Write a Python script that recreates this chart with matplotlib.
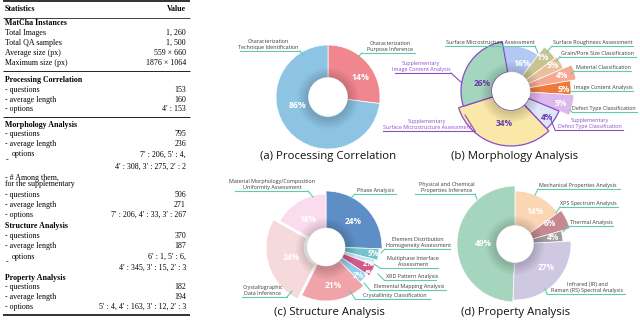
import matplotlib
matplotlib.use("Agg")
import matplotlib.pyplot as plt
from matplotlib.patches import Circle

# ------------------------------------------------------------------ data
tab_labels = ["Statistics", "MatCha Instances", "Total Images", "Total QA samples",
              "Average size (px)", "Maximum size (px)",
              "Processing Correlation", "- questions", "- average length", "- options",
              "Morphology Analysis", "- questions", "- average length", "options", "",
              "- # Among them,", "for the supplementary", "- questions", "- average length", "- options",
              "Structure Analysis", "- questions", "- average length", "options", "",
              "Property Analysis", "- questions", "- average length", "- options"]
tab_values = ["Value", "", "1, 260", "1, 500", "559 × 660", "1876 × 1064",
              "", "153", "160", "4′ : 153",
              "", "795", "236", "7′ : 206, 5′ : 4,", "4′ : 308, 3′ : 275, 2′ : 2",
              "", "", "506", "271", "7′ : 206, 4′ : 33, 3′ : 267",
              "", "370", "187", "6′ : 1, 5′ : 6,", "4′ : 345, 3′ : 15, 2′ : 3",
              "", "182", "194", "5′ : 4, 4′ : 163, 3′ : 12, 2′ : 3"]
tab_bold = {0, 1, 6, 10, 20, 25}

proc_names = ["Characterization\nPurpose Inference", "Characterization\nTechnique Identification"]
proc_pct = ["14%", "86%"]
proc_share = [27, 73]

morph_names = ["Surface Microstructure Assessment", "Surface Roughness Assessment",
               "Grain/Pore Size Classification", "Material Classification",
               "Image Content Analysis", "Defect Type Classification",
               "Supplementary\nDefect Type Classification",
               "Supplementary\nSurface Microstructure Assessment",
               "Supplementary\nImage Content Analysis"]
morph_pct = ["16%", "1%", "5%", "4%", "5%", "5%", "4%", "34%", "26%"]
morph_share = [13, 4.5, 3.7, 3.7, 3.7, 5.3, 6.6, 32, 27]

struct_names = ["Phase Analysis", "Element Distribution\nHomogeneity Assessment",
                "Multiphase Interface\nAssessment", "XRD Pattern Analysis",
                "Elemental Mapping Analysis", "Crystallinity Classification",
                "Crystallographic\nData Inference",
                "Material Morphology/Composition\nUniformity Assessment"]
struct_pct = ["24%", "5%", "2%", "4%", "2%", "21%", "24%", "18%"]
struct_share = [25.5, 3.5, 1.8, 3.6, 3.3, 19.7, 25.8, 16.8]

prop_names = ["Mechanical Properties Analysis", "XPS Spectrum Analysis", "Thermal Analysis",
              "Infrared (IR) and\nRaman (RS) Spectral Analysis",
              "Physical and Chemical\nProperties Inference"]
prop_pct = ["14%", "6%", "4%", "27%", "49%"]
prop_share = [15, 5.6, 3.6, 26.4, 49.4]

subtitles = ["(a) Processing Correlation", "(b) Morphology Analysis",
             "(c) Structure Analysis", "(d) Property Analysis"]

# ------------------------------------------------------------------ layout / style
H = 320
def Y(y):
    return H - y

fig = plt.figure(figsize=(6.4, 3.2), dpi=100)
ax = fig.add_axes([0, 0, 1, 1])

SERIF = ["Liberation Serif", "DejaVu Serif"]
SANS = "Open Sans"
TEAL = "#5ccdb0"
PURPLE = "#8a4cc8"
TXT = "#3a3a3a"

# ---------------- table
row_y = [9, 23, 33, 43, 53, 63, 80, 89.5, 99.5, 109, 125, 134.5, 144, 154.5, 167,
         178, 184.5, 195, 205, 215, 226.5, 236, 246, 257, 268, 277.5, 287, 297, 307]
TFS = 5.7
for i, (lab, val, y) in enumerate(zip(tab_labels, tab_values, row_y)):
    bold = i in tab_bold
    lx = 5
    if lab == "options":
        lx = 11.5
        ax.text(5.5, Y(y + 5.5), "-", fontsize=TFS, family=SERIF, va="center", ha="left")
    if lab:
        ax.text(lx, Y(y), lab, fontsize=TFS, family=SERIF, va="center", ha="left",
                fontweight="bold" if bold else "normal")
    if val:
        ax.text(186, Y(y), val, fontsize=TFS, family=SERIF, va="center", ha="right",
                fontweight="bold" if bold else "normal")
for yy, lw in [(1.2, 1.3), (17.5, 0.6), (71, 0.7), (116.5, 0.7), (315, 1.3)]:
    ax.plot([3, 190], [Y(yy), Y(yy)], color="#222222", lw=lw, solid_capstyle="butt")


# ---------------- donuts
def donut(center, shares, colors, radii, hole, start, edges=None, explode=None):
    cx, cy = center
    wedges, _ = ax.pie(shares, colors=colors, startangle=start, counterclock=False,
                       center=(cx, Y(cy)), radius=max(radii), explode=explode,
                       wedgeprops=dict(width=max(radii) - hole, linewidth=0.5, edgecolor="white"))
    for i, (w, r) in enumerate(zip(wedges, radii)):
        w.set_radius(r)
        w.set_width(r - hole)
        if edges and edges[i]:
            w.set_edgecolor(edges[i])
            w.set_linewidth(0.9)
    # soft inner shadow around the hole
    for k in range(6):
        ax.add_patch(Circle((cx, Y(cy) - 1.5), hole + 11 - k * 1.8, color="black",
                            alpha=0.028, lw=0, zorder=2))
    ax.add_patch(Circle((cx, Y(cy)), hole, color="white", lw=0, zorder=3))
    return wedges


def pct(x, y, s, color="white", fs=6.3):
    ax.text(x, Y(y), s, ha="center", va="center", fontsize=fs, color=color,
            fontweight="bold", family=SANS, zorder=5)


def callout(text, x, ly, x1, x2, tip, purple=False):
    lc = PURPLE if purple else TEAL
    tc = PURPLE if purple else TXT
    ax.text(x, Y(ly - 0.9), text, ha="center", va="bottom", fontsize=3.9, color=tc,
            family=SANS, linespacing=1.25, zorder=5)
    ax.plot([x1, x2], [Y(ly), Y(ly)], color=lc, lw=0.8, zorder=4)
    end = x1 if abs(tip[0] - x1) < abs(tip[0] - x2) else x2
    ax.plot([end, tip[0]], [Y(ly), Y(tip[1])], color=lc, lw=0.8, zorder=4)


# (a) Processing Correlation
donut((328, 97), proc_share, ["#f0868e", "#8dc4e4"], [52, 52], 19.5, 90)
pct(360, 78, proc_pct[0])
pct(298, 105, proc_pct[1])
callout(proc_names[1], 268, 51, 240, 300, (303, 55))
callout(proc_names[0], 390, 53, 362, 415, (358, 57))

# (b) Morphology Analysis
morph_colors = ["#b4c8f4", "#c8c38f", "#e9c09c", "#f7a893", "#ee7b3b", "#ddb8ec",
                "#dde5f8", "#fae8a8", "#a4d6bd"]
morph_radii = [45, 55, 57, 66, 60, 63, 52, 55, 50]
morph_edges = [None] * 6 + [PURPLE] * 3
donut((511, 91), morph_share, morph_colors, morph_radii, 19, 100, edges=morph_edges)
morph_pos = [(522, 63), (543, 58), (553, 65), (562, 75), (564, 89), (561, 104),
             (547, 118), (504, 124), (482, 83)]
for (px, py), s, e in zip(morph_pos, morph_pct, morph_edges):
    pct(px, py, s, color="#6a3aa8" if e else "white", fs=6.0)
callout(morph_names[0], 490, 46, 445, 535, (538, 53))
callout(morph_names[1], 593, 46, 552, 633, (547, 52))
callout(morph_names[2], 598, 56.5, 560, 636, (556, 62))
callout(morph_names[3], 603, 71, 574, 631, (571, 74))
callout(morph_names[4], 603, 91, 573, 633, (571, 91))
callout(morph_names[5], 604, 112, 572, 637, (570, 110))
callout(morph_names[6], 590, 130, 555, 623, (551, 120), purple=True)
callout(morph_names[7], 427, 131, 383, 475, (465, 115), purple=True)
callout(morph_names[8], 421, 73, 395, 451, (462, 83), purple=True)

# (c) Structure Analysis
struct_colors = ["#5e8ec6", "#72c3ce", "#c2e0f2", "#d35a8b", "#8ecdeb", "#f0a3a8",
                 "#f6dadb", "#fbdcef"]
struct_radii = [56, 53, 50, 52, 49, 54, 57, 53]
donut((326, 247), struct_share, struct_colors, struct_radii, 19, 90,
      explode=[0, 0, 0, 0, 0, 0, 3, 0])
struct_pos = [(353, 222), (373, 254), (368, 264), (369, 273), (358, 276), (333, 285),
              (291, 258), (308, 220)]
for (px, py), s in zip(struct_pos, struct_pct):
    pct(px, py, s, fs=6.0 if len(s) > 2 else 5.5)
callout(struct_names[7], 272, 191, 235, 308, (313, 197))
callout(struct_names[0], 376, 194, 355, 396, (351, 198))
callout(struct_names[1], 418, 249, 385, 450, (381, 253))
callout(struct_names[2], 413, 268, 380, 438, (374, 264))
callout(struct_names[3], 412, 280, 384, 436, (378, 274))
callout(struct_names[4], 409, 290, 370, 446, (364, 283))
callout(struct_names[5], 395, 299, 355, 430, (350, 291))
callout(struct_names[6], 263, 297, 242, 287, (292, 291))

# (d) Property Analysis
prop_colors = ["#fad6b3", "#c78991", "#9d9d9d", "#cfc8e3", "#a6d5be"]
prop_radii = [53, 57, 48, 56, 58]
donut((515, 244), prop_share, prop_colors, prop_radii, 18.5, 90)
prop_pos = [(535, 211), (550, 224), (553, 238), (546, 267), (483, 243)]
for (px, py), s in zip(prop_pos, prop_pct):
    pct(px, py, s, fs=6.0)
callout(prop_names[4], 447, 194, 415, 475, (477, 199))
callout(prop_names[0], 578, 189, 538, 620, (535, 195))
callout(prop_names[1], 588, 207, 560, 618, (556, 213))
callout(prop_names[2], 591, 226, 568, 613, (563, 232))
callout(prop_names[3], 587, 294, 547, 625, (545, 289))

# subtitles
for s, (x, y) in zip(subtitles, [(328, 157), (515, 157), (329, 313), (516, 313)]):
    ax.text(x, Y(y), s, ha="center", va="center", fontsize=8.2, color="#111111", family=SANS)

ax.set_aspect("auto")
ax.set_xlim(0, 640)
ax.set_ylim(0, 320)
ax.axis("off")
fig.savefig("out.png", dpi=100)
